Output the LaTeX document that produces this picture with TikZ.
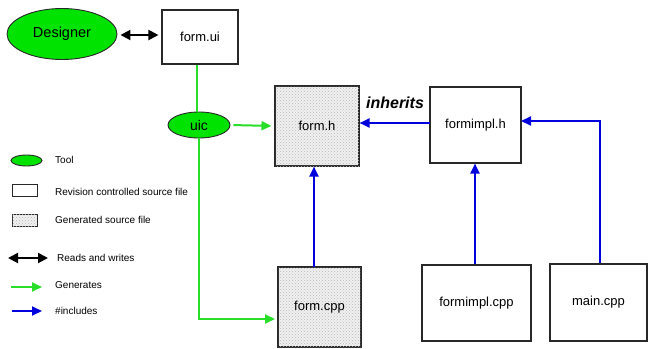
\documentclass[tikz,border=0pt]{standalone}
\usepackage{fontspec}
\setmainfont{Liberation Sans}
\usetikzlibrary{arrows.meta,shapes.geometric,patterns}
\definecolor{toolgreen}{RGB}{0,226,0}
\definecolor{gline}{RGB}{40,222,40}
\definecolor{bline}{RGB}{0,0,220}
\definecolor{edge}{RGB}{40,40,40}
\tikzset{
  tool/.style={ellipse,draw=edge,line width=0.9pt,fill=toolgreen,inner sep=0pt},
  srcfile/.style={rectangle,draw=edge,line width=1.1pt,fill=white,inner sep=0pt},
  genfile/.style={rectangle,draw=edge,line width=1.1pt,fill=gray!12,inner sep=0pt,
    postaction={pattern=crosshatch dots,pattern color=gray!55}},
  lbl/.style={font=\fontsize{13}{15}\selectfont},
  leg/.style={font=\fontsize{10}{12}\selectfont,anchor=west,inner sep=0pt},
  gen/.style={gline,line width=2pt,-{Triangle[length=10pt,width=9pt]}},
  inc/.style={bline,line width=2pt,-{Triangle[length=10pt,width=9pt]}},
  rw/.style={black,line width=2pt,{Triangle[length=10pt,width=10pt]}-{Triangle[length=10pt,width=10pt]}},
}
\begin{document}
\begin{tikzpicture}[x=1pt,y=-1pt]
\useasboundingbox (0,0) rectangle (650,348);
% main nodes
\node[tool,minimum width=110,minimum height=51,font=\fontsize{14.5}{16}\selectfont] (designer) at (62,34) {Designer};
\node[srcfile,minimum width=76,minimum height=54,lbl] (formui) at (200,37) {form.ui};
\node[tool,minimum width=62,minimum height=26,font=\fontsize{14}{16}\selectfont] (uic) at (199,125) {uic};
\node[genfile,minimum width=84,minimum height=80,lbl] (formh) at (317,126) {form.h};
\node[srcfile,minimum width=91,minimum height=76,lbl] (formimplh) at (475.5,125) {formimpl.h};
\node[genfile,minimum width=83,minimum height=80,lbl] (formcpp) at (319.5,307) {form.cpp};
\node[srcfile,minimum width=109,minimum height=76,lbl] (formimplcpp) at (476.5,303) {formimpl.cpp};
\node[srcfile,minimum width=97,minimum height=77,lbl] (maincpp) at (598.5,302.5) {main.cpp};
\node[font=\fontsize{16}{18}\selectfont\bfseries\itshape,inner sep=0pt,text=black] (inh) at (395,103) {inherits};
% connectors
\draw[rw,shorten <=3pt,shorten >=3pt] (designer.east |- 0,35) -- (formui.west |- 0,35);
\coordinate (uitop) at (197,112);
\draw[gline,line width=2pt] (uitop) -- (uitop |- formui.south);
\draw[gen,shorten <=3pt,shorten >=3pt] (uic.east) -- (formh.west);
\coordinate (cppin) at (275,319);
\draw[gen] (uic.south) |- (cppin);
\coordinate (inhs) at (430,123);
\draw[inc] (inhs) -- (inhs -| formh.east);
\coordinate (fcpptop) at (314,267);
\draw[inc] (fcpptop) -- (fcpptop |- formh.south);
\draw[inc] (formimplcpp.north -| 475,0) -- (formimplh.south -| 475,0);
\coordinate (mainin) at (521,121);
\draw[inc] (maincpp.north -| 600,0) |- (mainin);
% legend
\node[tool,minimum width=31,minimum height=11] (legtool) at (26.5,160.5) {};
\node[leg] (legtooltxt) at (55,160) {Tool};
\node[srcfile,line width=0.9pt,minimum width=25,minimum height=12] (legsrc) at (24.5,190) {};
\node[leg] (legsrctxt) at (55,192) {Revision controlled source file};
\node[genfile,line width=0.9pt,minimum width=25,minimum height=12] (leggen) at (24.5,220) {};
\node[leg] (leggentxt) at (55,220) {Generated source file};
\coordinate (rwa) at (8,258);
\coordinate (rwb) at (48,258);
\draw[rw] (rwa) -- (rwb);
\node[leg] (legrw) at (57,258) {Reads and writes};
\coordinate (ga) at (11,287);
\coordinate (gb) at (42,287);
\draw[gen] (ga) -- (gb);
\node[leg] (leggenr) at (55,285) {Generates};
\coordinate (ia) at (12,311);
\coordinate (ib) at (42,311);
\draw[inc] (ia) -- (ib);
\node[leg] (leginc) at (55,311) {\#includes};
\end{tikzpicture}
\end{document}
